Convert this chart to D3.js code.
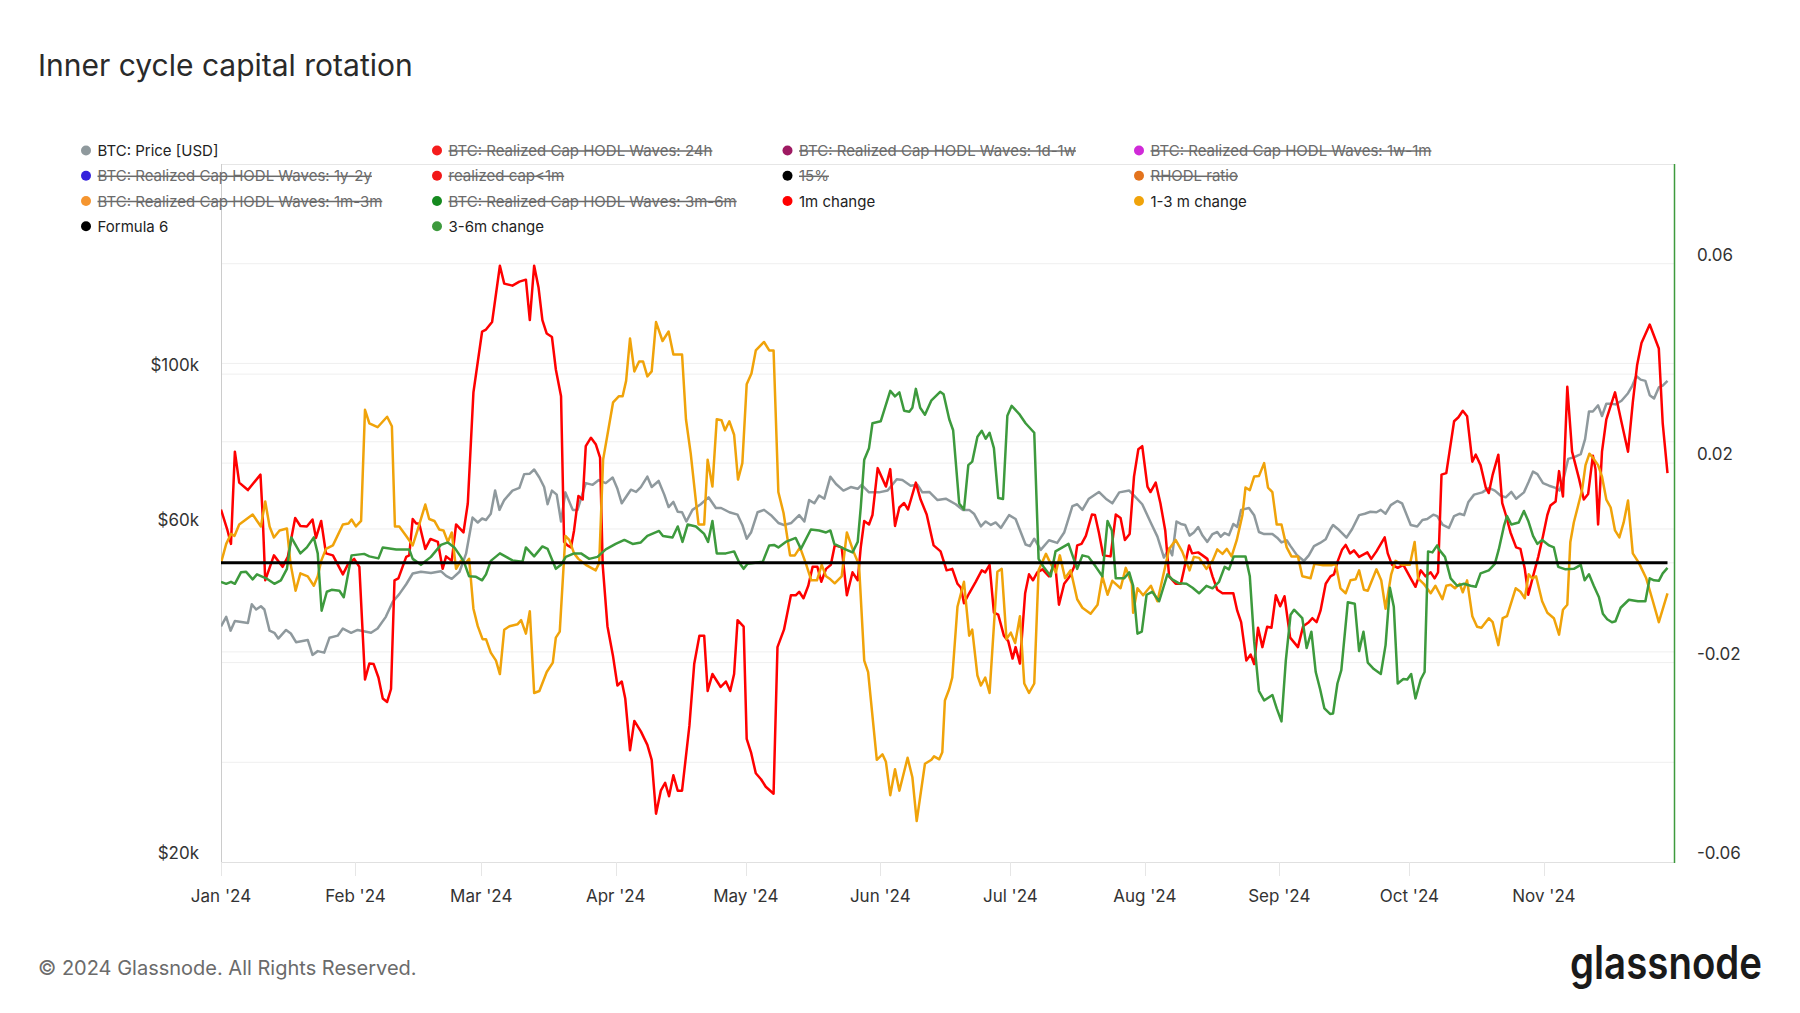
<!DOCTYPE html>
<html><head><meta charset="utf-8">
<script src="https://cdn.jsdelivr.net/npm/d3@7"></script>
<style>
html,body{margin:0;padding:0;background:#fff;}
svg{display:block;font-family:Inter,"Noto Sans",sans-serif;}
</style></head>
<body><svg id="chart" width="1800" height="1013"></svg>
<script>
// ---------------- DATA (x = days since 2024-01-01) ----------------
const startDate = "2024-01-01";
const endDate = "2024-12-01";
const monthTicks = ["2024-01-01","2024-02-01","2024-03-01","2024-04-01","2024-05-01","2024-06-01","2024-07-01","2024-08-01","2024-09-01","2024-10-01","2024-11-01"];
const monthLabels = ["Jan '24","Feb '24","Mar '24","Apr '24","May '24","Jun '24","Jul '24","Aug '24","Sep '24","Oct '24","Nov '24"];
const priceGridTicks = [40000,60000,80000,100000];
const priceLabelTicks = [20000,60000,100000];
const priceLabels = ["$20k","$60k","$100k"];
const changeGridTicks = [-0.04,-0.02,0,0.02,0.04,0.06];
const changeLabelTicks = [-0.06,-0.02,0.02,0.06];
const changeLabels = ["-0.06","-0.02","0.02","0.06"];

// BTC price, thousands of USD
const btcPrice = [[0,43.5],[1.2,44.9],[2.2,42.9],[3.2,44.3],[6.2,44.0],[7.1,46.8],[8.1,46.0],[9.2,46.5],[10.0,46.0],[11.2,42.9],[12.3,42.6],[13.2,41.8],[15.0,43.0],[16.1,42.5],[17.3,41.3],[20.0,41.6],[21.1,39.6],[22.3,40.1],[23.8,39.9],[25.0,41.9],[26.9,42.2],[28.1,43.2],[30.0,42.6],[31.5,43.0],[34.6,42.6],[36.1,43.2],[38.0,44.9],[39.6,47.2],[41.1,48.4],[42.7,50.0],[44.2,51.8],[46.1,52.1],[48.4,51.9],[50.7,52.2],[51.9,51.4],[53.2,50.9],[55.0,52.1],
[56.5,55.3],[58.0,62.3],[59.2,61.3],[60.2,62.1],[61.1,61.8],[62.2,63.1],[63.2,68.1],[64.2,63.9],[65.3,66.0],[67.2,68.1],[68.8,68.7],[69.9,71.9],[71.2,72.0],[72.2,73.0],[73.4,71.1],[74.5,68.9],[75.3,65.1],[76.3,68.1],[77.4,67.2],[78.4,61.5],[79.4,67.7],[81.1,63.9],[82.2,63.9],[84.1,69.8],[85.7,69.4],[87.1,70.5],[88.7,69.8],[90.3,71.1],[91.4,68.5],[92.4,65.3],[94.5,68.3],[95.7,67.8],[96.8,68.9],[98.3,71.3],[99.3,68.9],[100.9,70.3],[102.2,67.2],[103.2,64.5],[104.3,65.6],[105.3,63.5],[106.3,63.4],[107.3,61.5],[108.7,63.9],[110.6,65.1],[112.4,66.6],
[114.1,64.3],[115.3,64.3],[117.2,63.4],[119.1,62.9],[120.2,60.8],[121.2,58.1],[122.2,59.3],[123.7,63.4],[125.2,63.9],[126.8,62.8],[128.5,61.2],[129.8,60.8],[131.5,61.2],[133.3,62.8],[134.5,61.5],[135.6,66.0],[136.8,65.3],[137.9,67.0],[139.1,66.3],[140.5,71.3],[141.8,69.6],[143.5,68.1],[145.2,68.9],[146.8,68.5],[147.7,69.4],[149.4,67.7],[151.7,67.7],[153.7,68.1],[155.8,70.7],[157.1,70.5],[159.0,69.2],[160.6,69.4],[161.7,67.7],[163.3,67.8],[165.2,66.0],[167.1,66.3],
[169.4,65.1],[171.0,63.9],[172.5,63.9],[173.6,63.1],[175.2,60.5],[176.3,61.5],[177.5,60.8],[178.6,61.3],[179.8,60.2],[181.7,62.8],[183.2,62.0],[185.5,57.0],[186.5,56.7],[187.5,58.1],[189.0,56.0],[190.9,57.8],[192.8,57.3],[194.4,59.3],[196.3,64.7],[197.4,65.1],[198.6,63.9],[200.1,66.3],[202.4,67.8],[204.0,66.3],[205.5,65.3],[207.1,67.7],[209.4,68.1],[210.9,66.6],[212.4,65.1],[214.4,61.2],[215.9,58.5],[217.4,54.6],[218.6,56.3],[219.3,55.0],[220.3,61.5],[221.3,61.0],[222.3,60.8],[223.3,58.7],[224.3,59.3],
[225.3,60.4],[226.3,58.7],[227.4,57.5],[228.6,59.0],[229.7,59.4],[230.5,58.5],[231.4,59.2],[232.4,58.8],[233.4,61.0],[234.3,60.4],[235.2,63.9],[237.0,64.3],[238.2,62.8],[239.3,59.4],[240.5,59.0],[242.4,59.0],[243.5,58.3],[244.5,57.4],[245.7,57.8],[246.6,56.7],[248.1,55.0],[249.7,54.0],[250.8,55.0],[252.0,56.7],[253.4,57.3],[254.7,58.0],[255.8,60.0],[256.4,60.8],[257.5,60.0],[259.5,58.3],[260.8,60.0],[262.4,62.8],[263.7,63.1],[265.0,63.5],[266.4,63.4],[267.4,63.9],[268.5,63.1],[269.7,64.9],[271.2,65.8],[272.3,65.3],[274.3,60.8],[275.8,60.5],[277.0,61.8],[278.1,62.0],[279.5,62.9],[280.4,62.6],
[281.7,60.8],[283.1,60.2],[284.3,62.6],[285.6,63.1],[286.6,62.8],[287.6,65.6],[288.9,67.2],[290.8,67.7],[292.3,68.7],[293.7,68.1],[295.0,67.0],[296.2,66.6],[297.5,67.8],[298.6,66.3],[300.4,67.7],[301.5,70.1],[302.5,72.5],[303.5,71.9],[304.8,69.8],[306.2,69.2],[307.7,68.7],[308.6,68.1],[309.6,71.1],[310.6,75.6],[311.9,76.0],[313.5,76.8],[314.5,80.7],[315.4,88.4],[316.3,88.4],[317.5,90.2],[318.4,87.1],[319.4,90.7],[320.4,90.7],[321.5,90.5],[322.9,91.6],[324.4,93.9],[325.4,96.3],[326.3,99.4],[327.3,98.2],[328.4,97.8],[329.4,93.3],[330.4,92.3],[331.5,95.7],[332.4,96.3],[333.5,97.8]];

// 1m change, in hundredths (1.07 = 0.0107)
const change1m = [[0,1.07],[1.5,0.65],[2.3,0.38],[3.2,2.23],[4.2,1.61],[6.2,1.46],[9.1,1.77],[9.6,0.96],[10.2,-0.35],[12.2,0.15],[14.2,-0.08],[15.4,0.12],[17.1,0.90],[18.3,0.74],[19.8,0.73],[21.1,0.87],[21.9,0.50],[23.1,0.84],[24.2,0.19],[25.8,0.15],[28.1,-0.23],[29.2,-0.04],[30.7,0.08],[31.9,-0.08],[33.2,-2.34],[34.2,-2.02],[35.2,-2.03],[36.3,-2.30],[37.3,-2.72],[38.3,-2.79],[39.2,-2.53],[40.0,-0.35],[40.9,-0.31],[42.7,0.12],[43.4,0.15],[44.2,0.88],[45.0,0.79],[45.7,0.79],[47.1,0.28],[48.3,0.48],[50.0,0.42],[51.1,-0.12],[51.9,0.13],[53.2,0.04],[54.2,0.77],
[55.9,0.61],[56.9,1.19],[58.2,3.42],[60.2,4.64],[61.1,4.68],[62.5,4.83],[64.3,5.96],[65.3,5.60],[67.2,5.56],[68.8,5.64],[70.3,5.68],[71.2,4.87],[72.2,5.96],[73.2,5.53],[74.1,4.87],[75.1,4.60],[76.3,4.53],[77.2,3.88],[78.4,3.34],[79.1,0.42],[79.9,0.35],[80.7,0.31],[81.4,0.65],[82.4,1.34],[83.4,1.27],[84.1,2.34],[85.3,2.51],[86.4,2.38],[87.4,2.11],[88.0,-0.04],[89.1,-1.27],[90.4,-1.88],[91.4,-2.46],[92.4,-2.38],[93.2,-2.72],[94.3,-3.76],[95.3,-3.17],[96.8,-3.38],[98.3,-3.65],[99.3,-3.95],[100.3,-5.03],[101.4,-4.57],[102.4,-4.41],[103.3,-4.68],[104.3,-4.26],[105.3,-4.57],[106.3,-4.57],[108.0,-3.26],[109.1,-2.03],[110.3,-1.46],[111.4,-1.46],
[112.2,-2.57],[113.3,-2.23],[115.2,-2.49],[116.4,-2.38],[117.4,-2.57],[118.3,-2.23],[119.1,-1.15],[120.5,-1.28],[121.2,-3.53],[122.2,-3.80],[123.3,-4.22],[124.5,-4.34],[125.6,-4.49],[127.4,-4.63],[128.3,-1.69],[129.8,-1.34],[131.4,-0.65],[132.5,-0.65],[133.3,-0.58],[134.3,-0.71],[135.4,-0.46],[136.4,-0.08],[137.5,-0.08],[138.4,-0.38],[139.5,-0.12],[140.6,-0.04],[141.5,0.35],[143.1,0.31],[144.3,-0.65],[145.6,-0.19],[146.8,-0.35],[147.5,0.31],[148.3,0.84],[149.4,0.77],[150.2,0.96],[151.4,1.90],[153.3,1.53],[154.3,1.88],[155.4,0.74],[156.4,1.11],[157.5,1.20],[158.4,1.07],[160.2,1.61],[161.3,1.27],[162.7,0.97],[164.3,0.35],[165.9,0.23],[167.3,-0.15],
[168.6,-0.12],[169.8,-0.42],[170.6,-0.50],[171.3,-0.81],[172.5,-0.61],[174.0,-0.38],[175.4,-0.15],[176.2,-0.19],[177.2,-0.04],[178.2,-1.00],[179.2,-1.04],[180.5,-1.46],[181.5,-1.57],[182.5,-1.92],[183.2,-1.69],[184.2,-2.02],[185.4,-0.61],[186.3,-0.23],[187.2,-0.35],[188.2,-0.19],[189.4,-0.13],[190.9,-0.27],[192.3,0],[193.2,-0.84],[194.4,-0.42],[195.7,-0.27],[196.7,-0.08],[197.4,0.35],[198.4,0.38],[199.4,0.54],[200.8,0.97],[201.5,0.96],[202.4,0.61],[203.4,0.15],[205.1,0.13],[206.3,0.97],[207.4,0.90],[208.4,0.46],[209.5,0.58],[210.5,1.73],[211.5,2.28],[212.4,2.34],[213.6,1.53],[214.3,1.42],[215.5,1.61],[216.6,1.19],[217.7,0.65],[218.6,-0.27],[220.1,-0.42],[221.3,-0.42],[222.0,-0.15],[223.2,0.35],[223.9,0.19],
[225.3,0.21],[226.3,0.15],[227.4,0.08],[228.6,-0.27],[229.7,-0.54],[230.9,-0.61],[232.0,-0.61],[233.4,-0.61],[234.3,-0.96],[235.2,-1.19],[236.4,-1.96],[237.4,-1.84],[238.2,-2.03],[239.1,-1.30],[240.1,-1.69],[241.2,-1.28],[242.2,-1.30],[243.2,-0.65],[244.2,-0.87],[245.2,-0.67],[246.5,-1.50],[248.3,-1.69],[249.5,-1.27],[250.8,-1.19],[251.6,-1.11],[252.6,-1.19],[253.5,-0.96],[254.7,-0.42],[255.8,-0.27],[256.6,-0.23],[257.5,0.04],[258.5,0.27],[259.3,0.36],[260.3,0.19],[261.2,0.25],[262.4,0.12],[264.3,0.21],[265.2,0.08],[266.4,0.23],[268.3,0.51],[269.0,0.19],[270.0,-0.04],[271.3,-0.10],[272.6,-0.04],[274.3,-0.31],[275.4,-0.48],[276.6,-0.15],[277.7,-0.27],[278.9,-0.19],[279.8,-0.31],[280.6,-0.19],
[281.4,1.77],[282.5,1.80],[284.3,2.84],[285.3,2.92],[286.3,3.05],[287.3,2.94],[288.5,2.03],[289.3,2.17],[290.4,1.96],[291.6,1.51],[292.3,1.40],[293.2,1.77],[294.5,2.17],[295.4,1.20],[296.2,0.97],[297.3,0.61],[298.6,0.31],[299.6,0.28],[300.6,-0.12],[301.4,-0.64],[302.5,-0.27],[303.7,0.12],[304.8,0.54],[305.8,0.96],[306.5,1.15],[307.7,1.23],[308.5,1.84],[309.4,1.33],[310.4,3.53],[311.5,2.23],[313.1,1.69],[314.2,1.27],[315.2,1.38],[316.3,2.15],[316.9,1.88],[317.5,0.77],[318.4,2.23],[319.4,2.88],[321.4,3.42],[322.9,2.82],[324.4,2.23],[325.5,3.22],[326.5,3.97],[327.5,4.41],[329.4,4.78],[331.5,4.30],[332.4,2.80],[333.5,1.80]];

// 1-3 m change, in hundredths
const change1to3m = [[0,0],[1.2,0.38],[2.3,0.58],[3.1,0.54],[4.2,0.77],[7.3,0.97],[9.2,0.73],[10.2,1.23],[11.2,0.73],[12.2,0.51],[13.5,0.65],[15.2,0.69],[16.0,0],[17.2,-0.56],[18.3,-0.21],[20.0,-0.27],[21.4,-0.46],[22.3,-0.27],[23.1,0.04],[24.2,0.28],[25.8,0.35],[28.1,0.77],[29.4,0.79],[30.1,0.87],[31.1,0.73],[32.3,0.84],[33.2,3.07],[34.2,2.80],[36.1,2.72],[38.3,2.93],[39.4,2.74],[40.1,0.73],[41.1,0.73],[42.7,0.54],[44.2,0.35],[45.3,0.65],[47.1,1.17],[48.0,0.88],[49.2,0.84],[50.3,0.67],[51.3,0.65],[52.3,0.42],[53.2,0.61],[54.2,-0.12],[55.3,0.04],
[56.5,0],[57.2,0.08],[58.2,-0.92],[59.2,-1.27],[60.3,-1.53],[61.1,-1.53],[62.2,-1.80],[63.4,-1.96],[64.3,-2.23],[65.3,-1.34],[66.5,-1.27],[68.4,-1.23],[69.2,-1.15],[70.3,-1.42],[71.2,-0.97],[72.2,-2.61],[73.4,-2.57],[75.1,-2.19],[76.5,-2.00],[77.2,-1.50],[78.1,-1.38],[79.4,0.54],[80.3,0.46],[81.4,0.19],[82.4,0.08],[84.1,-0.04],[86.4,-0.15],[87.2,0],[88.1,2.07],[89.1,2.57],[90.4,3.22],[91.7,3.34],[92.6,3.34],[93.4,3.65],[94.3,4.50],[95.3,3.84],[96.4,4.04],[97.3,4.04],[98.3,3.74],[99.3,3.84],[100.3,4.83],[101.8,4.45],[103.2,4.64],[104.3,4.18],[106.3,4.18],[107.2,2.88],[108.3,2.19],[109.5,1.23],[110.1,0.77],[111.4,0.77],
[112.2,2.07],[113.3,1.53],[114.3,2.88],[115.4,2.86],[116.2,2.66],[117.2,2.84],[118.3,2.57],[119.2,1.67],[120.2,2.00],[121.2,3.58],[122.3,3.80],[123.3,4.26],[125.2,4.43],[126.4,4.26],[127.4,4.26],[128.5,1.42],[129.7,1.00],[131.2,0.15],[132.3,0.15],[133.5,0.31],[134.8,0],[136.1,-0.35],[137.4,-0.35],[138.5,-0.04],[139.5,-0.27],[140.5,-0.33],[141.5,-0.41],[143.1,-0.27],[144.3,0.61],[145.8,0.23],[147.1,-0.04],[148.3,-1.96],[149.2,-2.19],[151.2,-3.95],[152.5,-3.84],[153.3,-3.99],[154.3,-4.66],[155.4,-4.14],[156.4,-4.57],[158.3,-3.91],[159.4,-4.30],[160.4,-5.18],[162.3,-4.03],[163.8,-3.95],[164.4,-3.88],[165.6,-3.94],[166.3,-3.80],[166.9,-2.76],[167.9,-2.53],
[168.6,-2.3],[169.8,-0.88],[171.3,-0.38],[172.5,-1.46],[173.2,-1.34],[174.4,-2.26],[175.2,-2.46],[176.2,-2.30],[177.2,-2.61],[179.0,-0.18],[180.0,-0.12],[181.1,-1.53],[182.1,-1.40],[183.1,-1.61],[184.2,-1.07],[185.2,-2.42],[186.3,-2.61],[187.5,-2.42],[188.5,-0.15],[190.2,0.18],[191.3,-0.02],[192.5,-0.19],[193.4,0.15],[194.6,-0.31],[195.9,-0.15],[197.4,-0.73],[198.6,-0.90],[200.5,-1.02],[202.1,-0.84],[203.2,-0.27],[204.4,-0.64],[205.5,-0.36],[207.4,-0.51],[208.6,-0.10],[210.0,-0.42],[210.3,-1.00],[211.3,-0.51],[212.6,-0.65],[214.4,-0.46],[215.9,-0.77],[217.4,-0.19],[218.6,0.28],[220.1,0.46],[221.6,0.23],[223.3,-0.15],[224.3,0.12],
[225.5,0.10],[227.2,-0.12],[228.6,0.04],[229.7,0.27],[230.9,0.18],[231.9,0.28],[233.0,0.13],[234.2,0.46],[235.5,0.96],[236.2,1.51],[237.2,1.46],[238.2,1.73],[239.3,1.74],[240.5,2.00],[241.4,1.51],[242.4,1.42],[243.4,0.77],[244.5,0.77],[245.7,0.31],[246.8,0.13],[248.3,0.13],[249.3,-0.27],[251.2,-0.31],[252.1,-0.02],[254.1,-0.05],[256.0,-0.05],[257.0,-0.02],[258.1,-0.51],[259.3,-0.61],[260.4,-0.35],[261.6,-0.33],[262.4,-0.15],[263.5,-0.54],[264.4,-0.56],[266.4,-0.13],[267.5,-0.35],[268.5,-0.92],[269.8,-0.23],[270.8,0.04],[272.3,-0.04],[274.1,-0.04],[275.2,0.42],[276.0,-0.31],[277.3,-0.42],[278.9,-0.61],[280.0,-0.46],
[281.6,-0.73],[282.5,-0.46],[283.5,-0.44],[284.5,-0.51],[285.6,-0.42],[286.3,-0.59],[287.3,-0.35],[288.5,-1.07],[289.6,-1.28],[290.6,-1.30],[292.3,-1.11],[293.2,-1.19],[294.5,-1.65],[295.5,-1.11],[296.5,-1.07],[298.5,-0.51],[299.6,-0.58],[300.6,-0.71],[301.5,-0.23],[302.3,-0.31],[303.2,-0.27],[304.6,-0.77],[305.8,-1.00],[307.3,-1.11],[308.5,-1.44],[309.4,-0.94],[310.4,-0.84],[311.1,0.42],[311.9,0.81],[312.9,1.15],[313.8,1.46],[314.6,1.96],[315.5,2.19],[316.3,2.11],[317.5,1.96],[318.4,1.73],[319.4,1.27],[320.4,1.11],[321.4,0.65],[322.4,0.51],[323.4,0.81],[324.4,1.25],[325.5,0.19],[326.9,0],[328.6,-0.31],[330.0,-0.73],[331.5,-1.19],[333.5,-0.61]];

// 3-6m change, in hundredths
const change3to6m = [[0,-0.38],[1.2,-0.42],[2.3,-0.38],[3.2,-0.42],[4.6,-0.19],[5.8,-0.18],[7.3,-0.33],[8.3,-0.23],[10.4,-0.31],[12.3,-0.42],[13.8,-0.35],[15.2,-0.12],[16.2,0.51],[18.3,0.19],[19.8,0.31],[21.4,0.51],[22.3,0.19],[23.2,-0.96],[24.4,-0.58],[25.5,-0.54],[27.3,-0.56],[28.3,-0.69],[30.1,0.15],[33.0,0.18],[34.2,0.13],[36.3,0.09],[37.3,0.31],[40.4,0.27],[43.4,0.27],[44.2,0.08],[46.1,-0.04],[48.4,0.12],[50.7,0.36],[52.3,0.41],[53.8,0.31],[55.3,0.12],
[56.1,0],[57.2,-0.27],[58.8,-0.28],[60.2,-0.35],[61.1,-0.23],[62.2,0.04],[64.3,0.19],[67.2,0.05],[69.5,0.02],[70.3,0.31],[72.2,0.13],[74.1,0.33],[75.3,0.28],[77.2,-0.12],[78.4,-0.04],[79.5,0.12],[81.4,0.19],[83.0,0.19],[84.9,0.08],[86.8,0.12],[88.7,0.27],[91.0,0.38],[93.0,0.46],[94.9,0.38],[96.8,0.41],[98.3,0.54],[101.0,0.64],[101.9,0.54],[104.1,0.51],[105.3,0.73],[106.4,0.42],[107.6,0.77],[109.5,0.73],[111.4,0.58],
[112.3,0.42],[113.3,0.84],[114.3,0.19],[116.4,0.19],[118.3,0.23],[119.5,0],[120.5,-0.12],[121.4,-0.02],[124.9,0.02],[126.4,0.35],[127.5,0.36],[128.5,0.31],[130.2,0.42],[132.5,0.50],[133.7,0.28],[136.0,0.67],[137.9,0.65],[139.5,0.61],[140.5,0.65],[141.4,0.38],[143.7,0.28],[145.6,0.21],[146.8,0.42],[147.5,1.11],[148.3,2.07],[149.4,2.30],[150.2,2.80],[152.1,2.84],[154.3,3.45],[155.4,3.34],[156.4,3.42],[157.5,3.05],[158.7,3.03],[159.4,3.11],[160.2,3.49],[161.2,3.11],[162.3,2.97],[163.8,3.26],[165.8,3.43],[166.6,3.38],[167.9,2.88],
[168.8,2.66],[170.2,1.19],[171.3,1.07],[172.3,1.96],[173.2,2.03],[174.4,2.53],[175.4,2.65],[176.3,2.49],[177.2,2.61],[178.2,2.30],[179.2,1.30],[180.3,1.28],[181.3,2.95],[182.3,3.15],[184.0,2.99],[185.5,2.80],[187.5,2.61],[188.5,0.08],[189.8,-0.10],[191.3,-0.27],[192.4,0.23],[194.0,0.31],[195.4,0.38],[197.4,-0.12],[198.6,0.15],[200.0,0.12],[201.7,-0.08],[203.2,-0.27],[204.4,0.84],[205.4,0.65],[206.3,-0.31],[208.2,-0.31],[209.4,-0.19],[210.3,-0.46],[211.3,-1.42],[212.3,-1.38],[213.4,-0.64],[214.7,-0.58],[216.3,-0.77],[218.2,-0.23],[219.3,-0.33],[220.9,-0.41],[222.6,-0.42],[224.0,-0.50],
[225.5,-0.61],[227.2,-0.46],[228.6,-0.51],[230.1,-0.38],[231.4,-0.08],[232.4,-0.13],[233.5,0.13],[236.2,0.13],[237.2,-0.27],[238.2,-1.57],[239.3,-2.57],[240.5,-2.76],[242.4,-2.65],[243.4,-2.92],[244.5,-3.18],[245.5,-1.96],[246.6,-1.04],[247.4,-0.94],[249.3,-1.11],[250.3,-1.71],[251.4,-1.38],[252.4,-2.19],[253.4,-2.53],[254.4,-2.92],[255.7,-3.03],[256.4,-3.02],[257.4,-2.42],[258.3,-2.15],[259.8,-0.79],[261.4,-0.82],[262.4,-1.77],[263.4,-1.38],[264.4,-2.00],[265.8,-2.13],[267.4,-2.23],[268.5,-1.65],[269.5,-0.50],[270.4,-0.88],[271.3,-2.42],[272.6,-2.33],[273.5,-2.34],[274.4,-2.23],[275.4,-2.72],[276.6,-2.34],[277.5,-2.19],[278.3,0.23],[279.3,0.21],[280.4,0.35],
[280.8,0.27],[282.2,0.12],[283.5,-0.31],[285.0,-0.46],[286.6,-0.42],[288.1,-0.46],[289.3,-0.48],[290.4,-0.21],[292.3,-0.15],[293.7,-0.02],[294.6,0.27],[295.8,0.74],[296.5,0.94],[297.5,0.77],[299.2,0.81],[300.4,1.04],[301.4,0.84],[302.5,0.54],[303.5,0.38],[304.6,0.46],[306.2,0.35],[307.3,0.31],[308.3,-0.08],[310.0,-0.13],[311.9,-0.12],[313.5,-0.04],[314.4,-0.35],[315.4,-0.23],[316.5,-0.46],[317.7,-0.69],[318.6,-1.02],[319.6,-1.13],[320.7,-1.19],[321.5,-1.17],[322.7,-0.90],[324.6,-0.74],[326.7,-0.77],[328.4,-0.77],[329.4,-0.31],[330.4,-0.35],[331.5,-0.36],[332.4,-0.21],[333.5,-0.10]];

// Formula 6: constant zero line over the data range
const formula6 = [[0,0],[333.5,0]];

const legendLabels = ["BTC: Price [USD]","BTC: Realized Cap HODL Waves: 24h","BTC: Realized Cap HODL Waves: 1d-1w","BTC: Realized Cap HODL Waves: 1w-1m",
"BTC: Realized Cap HODL Waves: 1y-2y","realized cap<1m","15%","RHODL ratio",
"BTC: Realized Cap HODL Waves: 1m-3m","BTC: Realized Cap HODL Waves: 3m-6m","1m change","1-3 m change",
"Formula 6","3-6m change"];
const legendColors = ["#8f999d","#f51c1c","#9e1a62","#d02ad8","#3522dc","#f21818","#000000","#e3731d","#f5952f","#158a1f","#ff0000","#f0a30a","#000000","#3d9a3d"];
const legendActive = [true,false,false,false,false,false,false,false,false,false,true,true,true,true];

// ---------------- DRAW ----------------
const svg = d3.select("#chart");
const L = 221, R = 1674, T = 164, B = 862;
const day0 = d3.isoParse(startDate + "T00:00:00Z");
const parse = s => d3.isoParse(s + "T00:00:00Z");
const toDate = d => new Date(day0.getTime() + d * 86400000);

const x = d3.scaleUtc().domain([parse(startDate), parse(endDate)]).range([L, R]);
const yP = d3.scaleLog().domain([20000, 200000]).range([B, T]);
const yC = d3.scaleLinear().domain([-0.06, 0.08]).range([B, T]);

svg.append("rect").attr("width",1800).attr("height",1013).attr("fill","#fff");

// Title
svg.append("text").attr("x",38).attr("y",76).attr("font-size",30).attr("fill","#2a2a2a")
  .text("Inner cycle capital rotation");

// Gridlines
const grid = svg.append("g");
grid.selectAll(".gp").data(priceGridTicks).join("line")
  .attr("x1",L).attr("x2",R).attr("y1",d=>yP(d)).attr("y2",d=>yP(d))
  .attr("stroke","#efefef").attr("stroke-width",1);
grid.selectAll(".gc").data(changeGridTicks).join("line")
  .attr("x1",L).attr("x2",R).attr("y1",d=>yC(d)).attr("y2",d=>yC(d))
  .attr("stroke","#efefef").attr("stroke-width",1);
// frame
svg.append("line").attr("x1",L).attr("x2",R).attr("y1",T+0.5).attr("y2",T+0.5).attr("stroke","#e6e6e6");
svg.append("line").attr("x1",L).attr("x2",R).attr("y1",B+0.5).attr("y2",B+0.5).attr("stroke","#e0e0e0");
svg.append("line").attr("x1",L+0.5).attr("x2",L+0.5).attr("y1",T).attr("y2",B+1).attr("stroke","#cccccc");

// X ticks and labels
const monthDates = monthTicks.map(parse);
svg.selectAll(".xt").data(monthDates).join("line")
  .attr("x1",d=>Math.round(x(d))+0.5).attr("x2",d=>Math.round(x(d))+0.5)
  .attr("y1",B).attr("y2",B+14).attr("stroke","#e6e6e6");
svg.selectAll(".xl").data(monthDates).join("text")
  .attr("x",d=>x(d)).attr("y",902).attr("text-anchor","middle")
  .attr("font-size",17).attr("fill","#333").text((d,i)=>monthLabels[i]);

// Left axis labels
svg.selectAll(".yl").data(priceLabelTicks).join("text")
  .attr("x",199).attr("y",d=>yP(d)-3).attr("text-anchor","end")
  .attr("font-size",17).attr("fill","#333").text((d,i)=>priceLabels[i]);
// Right axis labels
svg.selectAll(".yr").data(changeLabelTicks).join("text")
  .attr("x",1697).attr("y",d=>yC(d)-3).attr("text-anchor","start")
  .attr("font-size",17).attr("fill","#333").text((d,i)=>changeLabels[i]);

// Lines
const clip = svg.append("defs").append("clipPath").attr("id","plotclip");
clip.append("rect").attr("x",L).attr("y",T).attr("width",R-L).attr("height",B-T);
const plot = svg.append("g").attr("clip-path","url(#plotclip)");

const priceLine = d3.line().x(d=>x(toDate(d[0]))).y(d=>yP(d[1]*1000));
const changeLine = d3.line().x(d=>x(toDate(d[0]))).y(d=>yC(d[1]/100));

plot.append("path").datum(btcPrice).attr("d",priceLine).attr("fill","none")
  .attr("stroke","#8f999d").attr("stroke-width",2.5).attr("stroke-linejoin","round");
plot.append("path").datum(change1m).attr("d",changeLine).attr("fill","none")
  .attr("stroke","#ff0000").attr("stroke-width",2.5).attr("stroke-linejoin","round");
plot.append("path").datum(change1to3m).attr("d",changeLine).attr("fill","none")
  .attr("stroke","#f0a30a").attr("stroke-width",2.5).attr("stroke-linejoin","round");
plot.append("path").datum(change3to6m).attr("d",changeLine).attr("fill","none")
  .attr("stroke","#3d9a3d").attr("stroke-width",2.5).attr("stroke-linejoin","round");
plot.append("path").datum(formula6).attr("d",changeLine).attr("fill","none")
  .attr("stroke","#000").attr("stroke-width",3);

// Right axis border (green)
svg.append("line").attr("x1",R+0.5).attr("x2",R+0.5).attr("y1",T).attr("y2",B+1)
  .attr("stroke","#3d9a3d").attr("stroke-width",1.5);

// Legend
const colX = [86, 437, 787.5, 1139];
const rowY = [150.5, 175.8, 201, 226.3];
const lg = svg.append("g");
legendLabels.forEach((lab,i)=>{
  const cx = colX[i%4], cy = rowY[Math.floor(i/4)];
  lg.append("circle").attr("cx",cx).attr("cy",cy).attr("r",5).attr("fill",legendColors[i]);
  lg.append("text").attr("x",cx+11.5).attr("y",cy).attr("dominant-baseline","central")
    .attr("font-size",15)
    .attr("fill",legendActive[i] ? "#222" : "#6b6b6b")
    .attr("text-decoration",legendActive[i] ? null : "line-through")
    .text(lab);
});

// Footer
svg.append("text").attr("x",38).attr("y",975).attr("font-size",20).attr("fill","#6b6b6b")
  .text("© 2024 Glassnode. All Rights Reserved.");
svg.append("text").attr("x",1570).attr("y",979).attr("font-size",46).attr("font-weight",600)
  .attr("fill","#1a1a1a").attr("textLength",192).attr("lengthAdjust","spacingAndGlyphs")
  .text("glassnode");
</script>
</body></html>
